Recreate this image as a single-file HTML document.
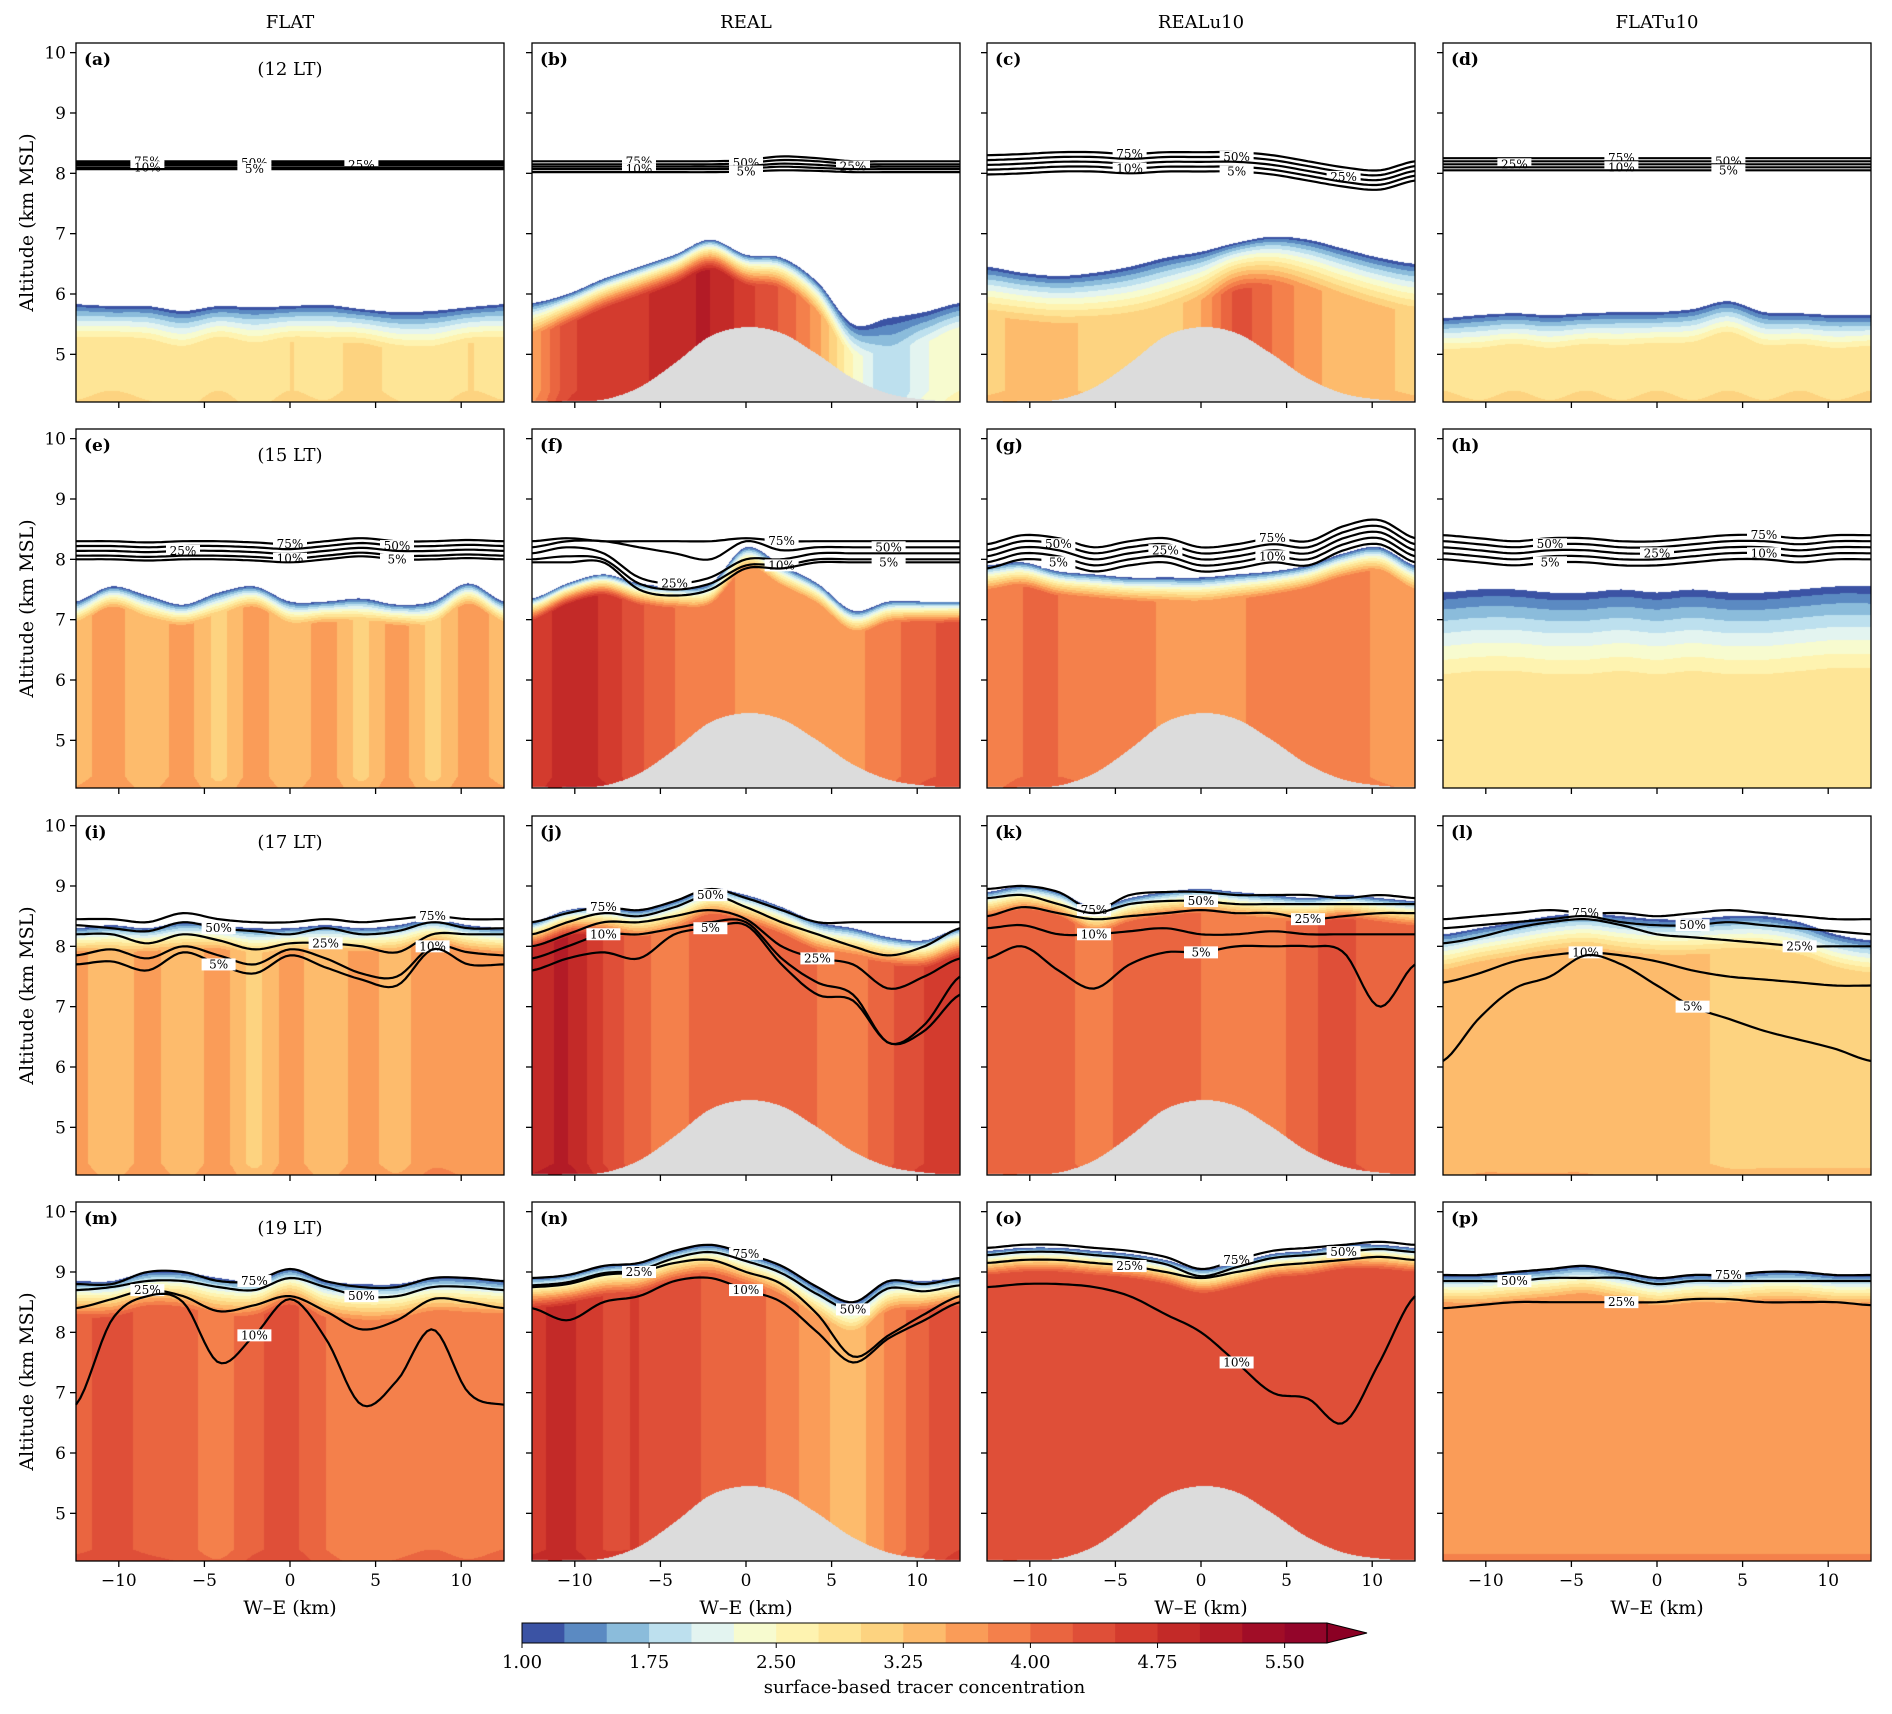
<!DOCTYPE html>
<html><head><meta charset="utf-8">
<style>
body{margin:0;background:#fff;}
#wrap{position:relative;width:1892px;height:1714px;overflow:hidden;font-family:"DejaVu Serif","Liberation Serif",serif;}
canvas{position:absolute;}
svg{position:absolute;left:0;top:0;}
</style></head>
<body>
<div id="wrap">
<svg id="svg" width="1892" height="1714"></svg>
</div>
<script>
// ---- data ----
const xs = [-12.5,-10.42,-8.33,-6.25,-4.17,-2.08,0,2.08,4.17,6.25,8.33,10.42,12.5];
const colTitles = ["FLAT","REAL","REALu10","FLATu10"];
const rowTimes = ["(12 LT)","(15 LT)","(17 LT)","(19 LT)"];
const panelLetters = ["a","b","c","d","e","f","g","h","i","j","k","l","m","n","o","p"];
const yTicks = [5,6,7,8,9,10];
const xTicks = [-10,-5,0,5,10];
const cbTicks = [1.00,1.75,2.50,3.25,4.00,4.75,5.50];
const terrain = [4.22,4.22,4.25,4.45,4.85,5.3,5.45,5.35,5.0,4.6,4.35,4.25,4.22];
const tops = [
 [5.83,5.8,5.8,5.72,5.8,5.78,5.8,5.82,5.75,5.7,5.72,5.78,5.83],
 [5.85,6.0,6.25,6.45,6.65,6.9,6.65,6.6,6.2,5.5,5.6,5.7,5.85],
 [6.45,6.35,6.3,6.35,6.45,6.6,6.7,6.85,6.95,6.9,6.75,6.6,6.5],
 [5.6,5.65,5.68,5.65,5.68,5.7,5.7,5.75,5.88,5.7,5.68,5.65,5.65],
 [7.3,7.55,7.4,7.25,7.45,7.55,7.3,7.3,7.35,7.25,7.3,7.6,7.3],
 [7.35,7.6,7.75,7.6,7.55,7.6,8.2,7.9,7.6,7.15,7.3,7.3,7.3],
 [7.9,7.95,7.8,7.75,7.7,7.7,7.7,7.75,7.8,7.9,8.1,8.2,7.9],
 [7.45,7.5,7.5,7.45,7.45,7.5,7.45,7.5,7.45,7.45,7.5,7.55,7.55],
 [8.3,8.35,8.3,8.4,8.35,8.3,8.3,8.35,8.3,8.35,8.45,8.35,8.3],
 [8.4,8.6,8.65,8.6,8.75,8.95,8.85,8.65,8.4,8.3,8.15,8.1,8.3],
 [8.9,9.0,8.9,8.65,8.8,8.9,8.95,8.9,8.85,8.8,8.85,8.8,8.75],
 [8.2,8.3,8.4,8.5,8.55,8.5,8.45,8.45,8.5,8.5,8.4,8.2,8.1],
 [8.85,8.85,9.0,9.0,8.9,8.85,9.05,8.85,8.8,8.8,8.9,8.9,8.85],
 [8.9,8.95,9.1,9.15,9.35,9.45,9.3,9.1,8.75,8.5,8.85,8.85,8.9],
 [9.35,9.4,9.4,9.35,9.3,9.2,9.05,9.15,9.3,9.35,9.45,9.45,9.4],
 [8.95,8.95,9.0,9.05,9.1,9.0,8.9,8.95,8.95,9.0,9.0,8.95,8.95]
];
const inner = [
 [2.9,3.0,2.9,2.8,3.0,2.8,3.0,2.9,3.1,2.9,2.8,3.0,2.9],
 [3.6,4.4,4.6,4.7,4.9,5.0,4.6,4.2,3.6,2.5,1.8,2.2,2.5],
 [3.2,3.3,3.3,3.2,3.1,3.1,3.5,4.3,4.0,3.6,3.4,3.3,3.2],
 [3.0,2.9,3.0,2.9,3.0,2.9,3.0,2.9,3.0,2.9,3.0,2.9,3.0],
 [3.4,3.6,3.3,3.6,3.2,3.6,3.3,3.6,3.2,3.6,3.2,3.6,3.4],
 [4.5,4.9,4.7,4.3,4.0,3.9,3.7,3.7,3.7,3.7,3.9,4.2,4.3],
 [3.8,4.0,4.0,3.9,3.9,3.7,3.6,3.7,3.9,4.0,3.9,3.7,3.6],
 [2.8,2.8,2.8,2.8,2.8,2.8,2.8,2.8,2.8,2.8,2.8,2.8,2.8],
 [3.6,3.3,3.6,3.3,3.6,3.2,3.6,3.3,3.6,3.4,3.7,3.6,3.6],
 [4.9,5.0,4.5,4.1,3.9,4.2,4.1,4.1,4.0,3.9,4.2,4.5,4.6],
 [4.0,4.1,4.1,3.9,4.1,4.1,4.0,3.9,3.9,4.2,4.3,4.1,4.0],
 [3.3,3.4,3.4,3.4,3.4,3.3,3.3,3.3,3.2,3.2,3.2,3.2,3.2],
 [4.2,4.3,4.2,4.1,3.9,4.2,4.3,4.0,3.8,3.9,4.0,3.9,4.0],
 [4.7,4.8,4.5,4.5,4.4,4.2,4.1,3.9,3.6,3.4,3.8,4.2,4.5],
 [4.3,4.3,4.3,4.3,4.3,4.3,4.3,4.3,4.3,4.3,4.3,4.3,4.3],
 [3.7,3.7,3.7,3.7,3.7,3.7,3.7,3.7,3.7,3.7,3.7,3.7,3.7]
];
const ramps = [0.6,0.5,0.8,0.6,0.35,0.35,0.4,1.4,0.4,0.45,0.4,0.6,0.6,0.5,0.4,0.5];
const hasTerrain = [false,true,true,false,false,true,true,false,false,true,true,false,false,true,true,false];
const lineLabels = ["75%","50%","25%","10%","5%"];
const lines = [
 [[8.2,8.2,8.2,8.2,8.2,8.2,8.2,8.2,8.2,8.2,8.2,8.2,8.2],[8.17,8.17,8.17,8.17,8.17,8.17,8.17,8.17,8.17,8.17,8.17,8.17,8.17],[8.14,8.14,8.14,8.14,8.14,8.14,8.14,8.14,8.14,8.14,8.14,8.14,8.14],[8.1,8.1,8.1,8.1,8.1,8.1,8.1,8.1,8.1,8.1,8.1,8.1,8.1],[8.07,8.07,8.07,8.07,8.07,8.07,8.07,8.07,8.07,8.07,8.07,8.07,8.07]],
 [[8.2,8.2,8.2,8.2,8.2,8.2,8.22,8.28,8.25,8.2,8.2,8.2,8.2],[8.15,8.15,8.15,8.15,8.15,8.15,8.17,8.22,8.2,8.15,8.15,8.15,8.15],[8.11,8.11,8.11,8.11,8.11,8.11,8.12,8.16,8.14,8.11,8.11,8.11,8.11],[8.07,8.07,8.07,8.07,8.07,8.07,8.08,8.11,8.09,8.07,8.07,8.07,8.07],[8.02,8.02,8.02,8.02,8.02,8.02,8.03,8.05,8.04,8.02,8.02,8.02,8.02]],
 [[8.3,8.32,8.35,8.35,8.32,8.35,8.35,8.35,8.3,8.2,8.1,8.05,8.2],[8.22,8.24,8.27,8.27,8.24,8.27,8.27,8.27,8.22,8.12,8.02,7.97,8.12],[8.14,8.16,8.19,8.19,8.16,8.19,8.19,8.19,8.14,8.04,7.94,7.89,8.04],[8.06,8.08,8.11,8.11,8.08,8.11,8.11,8.11,8.06,7.96,7.86,7.81,7.96],[7.98,8.0,8.03,8.03,8.0,8.03,8.03,8.03,7.98,7.88,7.78,7.73,7.88]],
 [[8.25,8.25,8.25,8.25,8.25,8.25,8.25,8.25,8.25,8.25,8.25,8.25,8.25],[8.2,8.2,8.2,8.2,8.2,8.2,8.2,8.2,8.2,8.2,8.2,8.2,8.2],[8.15,8.15,8.15,8.15,8.15,8.15,8.15,8.15,8.15,8.15,8.15,8.15,8.15],[8.1,8.1,8.1,8.1,8.1,8.1,8.1,8.1,8.1,8.1,8.1,8.1,8.1],[8.05,8.05,8.05,8.05,8.05,8.05,8.05,8.05,8.05,8.05,8.05,8.05,8.05]],
 [[8.3,8.3,8.28,8.3,8.3,8.28,8.25,8.3,8.35,8.3,8.3,8.32,8.3],[8.22,8.22,8.2,8.22,8.22,8.2,8.17,8.22,8.27,8.22,8.22,8.24,8.22],[8.14,8.14,8.12,8.14,8.14,8.12,8.09,8.14,8.19,8.14,8.14,8.16,8.14],[8.06,8.06,8.04,8.06,8.06,8.04,8.01,8.06,8.11,8.06,8.06,8.08,8.06],[8.0,8.0,7.98,8.0,8.0,7.98,7.95,8.0,8.05,8.0,8.0,8.02,8.0]],
 [[8.3,8.35,8.3,8.3,8.3,8.3,8.35,8.3,8.3,8.3,8.3,8.3,8.3],[8.2,8.3,8.3,8.2,8.1,8.0,8.3,8.15,8.2,8.2,8.2,8.2,8.2],[8.1,8.2,8.1,7.7,7.6,7.7,8.0,8.0,8.1,8.1,8.1,8.1,8.1],[8.0,8.05,8.0,7.6,7.5,7.6,7.9,7.9,8.0,8.0,8.0,8.0,8.0],[7.95,7.95,7.95,7.5,7.4,7.5,7.85,7.85,7.95,7.95,7.95,7.95,7.95]],
 [[8.25,8.4,8.35,8.2,8.3,8.35,8.2,8.25,8.35,8.3,8.55,8.65,8.35],[8.15,8.3,8.25,8.1,8.2,8.25,8.1,8.15,8.25,8.2,8.45,8.55,8.25],[8.05,8.2,8.15,8.0,8.1,8.15,8.0,8.05,8.15,8.1,8.35,8.45,8.15],[7.95,8.1,8.05,7.9,8.0,8.05,7.9,7.95,8.05,8.0,8.25,8.35,8.05],[7.85,8.0,7.95,7.8,7.9,7.95,7.8,7.85,7.95,7.9,8.15,8.25,7.95]],
 [[8.4,8.35,8.3,8.35,8.35,8.3,8.3,8.35,8.4,8.4,8.35,8.4,8.4],[8.3,8.25,8.2,8.25,8.25,8.2,8.2,8.25,8.3,8.3,8.25,8.3,8.3],[8.2,8.15,8.1,8.15,8.15,8.1,8.1,8.15,8.2,8.2,8.15,8.2,8.2],[8.1,8.05,8.0,8.05,8.05,8.0,8.0,8.05,8.1,8.1,8.05,8.1,8.1],[8.0,7.95,7.9,7.95,7.95,7.9,7.9,7.95,8.0,8.0,7.95,8.0,8.0]],
 [[8.45,8.45,8.4,8.55,8.45,8.4,8.4,8.45,8.4,8.45,8.5,8.45,8.45],[8.35,8.3,8.25,8.4,8.3,8.25,8.2,8.3,8.2,8.25,8.4,8.3,8.3],[8.2,8.2,8.05,8.2,8.1,7.95,8.05,8.05,8.0,7.9,8.2,8.2,8.2],[7.85,7.95,7.8,8.0,7.85,7.7,7.95,7.8,7.55,7.5,8.0,7.9,7.85],[7.7,7.75,7.6,7.9,7.7,7.55,7.85,7.65,7.45,7.35,7.95,7.7,7.7]],
 [[8.4,8.55,8.65,8.6,8.75,8.95,8.8,8.6,8.4,8.4,8.4,8.4,8.4],[8.2,8.4,8.55,8.5,8.65,8.85,8.65,8.4,8.2,8.0,7.85,8.0,8.3],[8.0,8.2,8.4,8.4,8.5,8.6,8.45,8.0,7.8,7.7,7.3,7.5,7.8],[7.8,8.0,8.2,8.2,8.3,8.4,8.4,7.8,7.4,7.2,6.4,6.7,7.5],[7.6,7.8,7.9,7.8,8.2,8.3,8.35,7.7,7.2,7.1,6.4,6.6,7.2]],
 [[8.95,9.0,8.9,8.6,8.85,8.9,8.9,8.85,8.85,8.85,8.8,8.85,8.8],[8.8,8.85,8.7,8.55,8.7,8.75,8.75,8.7,8.7,8.7,8.7,8.7,8.7],[8.5,8.65,8.55,8.45,8.5,8.55,8.6,8.55,8.55,8.45,8.5,8.55,8.55],[8.3,8.35,8.2,8.2,8.25,8.3,8.2,8.2,8.25,8.2,8.2,8.2,8.2],[7.8,8.0,7.6,7.3,7.7,7.9,7.9,8.0,8.0,8.0,7.9,7.0,7.7]],
 [[8.45,8.5,8.55,8.6,8.55,8.55,8.5,8.55,8.6,8.55,8.5,8.45,8.45],[8.3,8.35,8.4,8.45,8.5,8.4,8.35,8.35,8.4,8.35,8.3,8.25,8.2],[8.05,8.15,8.3,8.4,8.45,8.35,8.2,8.15,8.1,8.05,8.0,8.0,8.0],[7.4,7.55,7.75,7.85,7.9,7.85,7.75,7.6,7.5,7.45,7.4,7.35,7.35],[6.1,6.8,7.3,7.5,7.85,7.7,7.35,7.0,6.8,6.6,6.45,6.3,6.1]],
 [[8.8,8.8,9.0,9.0,8.85,8.85,9.05,8.85,8.75,8.75,8.9,8.9,8.85],[8.7,8.75,8.85,8.85,8.75,8.7,8.9,8.75,8.6,8.6,8.75,8.75,8.7],[8.4,8.55,8.7,8.6,8.35,8.45,8.6,8.35,8.05,8.2,8.55,8.5,8.4],[6.8,8.2,8.6,8.5,7.5,7.95,8.55,7.9,6.8,7.2,8.05,7.0,6.8]],
 [[8.9,8.95,9.1,9.15,9.35,9.45,9.3,9.1,8.75,8.5,8.85,8.8,8.9],[8.78,8.83,8.98,9.03,9.23,9.33,9.18,8.98,8.63,8.38,8.73,8.68,8.78],[8.75,8.8,8.95,9.0,9.15,9.2,9.0,8.8,8.3,7.6,7.95,8.3,8.6],[8.4,8.2,8.5,8.6,8.85,8.9,8.7,8.5,8.0,7.5,7.9,8.2,8.5]],
 [[9.4,9.45,9.45,9.4,9.35,9.25,9.05,9.2,9.35,9.4,9.45,9.5,9.45],[9.28,9.33,9.33,9.28,9.23,9.13,8.93,9.08,9.23,9.28,9.33,9.38,9.33],[9.15,9.2,9.2,9.15,9.1,9.0,8.9,9.0,9.1,9.15,9.2,9.25,9.2],[8.75,8.8,8.8,8.75,8.6,8.3,8.0,7.5,7.0,6.9,6.5,7.5,8.6]],
 [[8.95,8.95,9.0,9.05,9.1,9.0,8.9,8.95,8.95,9.0,9.0,8.95,8.95],[8.85,8.85,8.85,8.9,8.9,8.9,8.8,8.85,8.85,8.85,8.85,8.85,8.85],[8.4,8.45,8.5,8.5,8.5,8.5,8.5,8.55,8.55,8.5,8.5,8.5,8.45]]
];
const cmap = ["#3b53a4","#5b8ac2","#8bbcdb","#bde0ee","#e3f4f0","#f7fbcf","#fef3b0","#fee596","#fdd380","#fdbb6c","#fa9c58","#f4804b","#ea6540","#df4f38","#d33b2e","#c32a28","#b31b26","#a10d27","#93052a"];
const extendColor = "#8b0024";

// ---- layout ----
const PL=76, PT=43, PW=428, PH=359, DX=455.7, DY=386.3;
const ZMIN=4.21, ZMAX=10.16;
const wrap=document.getElementById('wrap');
const svg=document.getElementById('svg');
const NS="http://www.w3.org/2000/svg";
function mk(tag,attrs,parent){const e=document.createElementNS(NS,tag);for(const k in attrs)e.setAttribute(k,attrs[k]);(parent||svg).appendChild(e);return e;}
function interp(arr,x){
  if(x<=xs[0])return arr[0];
  for(let i=0;i<xs.length-1;i++){if(x<=xs[i+1]){
    const t=(x-xs[i])/(xs[i+1]-xs[i]);
    const p0=arr[Math.max(0,i-1)],p1=arr[i],p2=arr[i+1],p3=arr[Math.min(arr.length-1,i+2)];
    return 0.5*((2*p1)+(-p0+p2)*t+(2*p0-5*p1+4*p2-p3)*t*t+(-p0+3*p1-3*p2+p3)*t*t*t);}}
  return arr[arr.length-1];
}
function hex(c){return [parseInt(c.substr(1,2),16),parseInt(c.substr(3,2),16),parseInt(c.substr(5,2),16)];}
const cmapRGB=cmap.map(hex);

for(let p=0;p<16;p++){
  const r=Math.floor(p/4), c=p%4;
  const L=Math.round(PL+c*DX), T=Math.round(PT+r*DY);
  const xS=x=>L+(x+12.5)/25*PW;
  const yS=z=>T+(ZMAX-z)/(ZMAX-ZMIN)*PH;
  const cv=document.createElement('canvas');
  cv.width=PW;cv.height=PH;cv.style.left=L+'px';cv.style.top=T+'px';
  
  
  wrap.insertBefore(cv,svg);
  const ctx=cv.getContext('2d');
  const img=ctx.createImageData(PW,PH);
  for(let px=0;px<PW;px++){
    const x=(px+0.5)/PW*25-12.5;
    const top=interp(tops[p],x), inn=interp(inner[p],x), tr=interp(terrain,x);
    for(let py=0;py<PH;py++){
      const z=ZMAX-(py+0.5)/PH*(ZMAX-ZMIN);
      let col=[255,255,255];
      if(hasTerrain[p] && z<tr){col=[220,220,220];}
      else{
        const d=top-z;
        if(d>=0){
          let v=1+(inn-1)*Math.pow(Math.min(1,d/ramps[p]),0.8);
          if(z<4.4) v+=0.12*(4.4-z)/0.19;
          let b=Math.floor((v-1)/0.25);
          if(b<0)b=0;
          col = b>18?hex(extendColor):cmapRGB[b];
        }
      }
      const k=(py*PW+px)*4;img.data[k]=col[0];img.data[k+1]=col[1];img.data[k+2]=col[2];img.data[k+3]=255;
    }
  }
  ctx.putImageData(img,0,0);
  const g=mk('g',{});
  
  
  lines[p].forEach((ln,k)=>{
    let d='';
    for(let s=0;s<=100;s++){const x=-12.5+25*s/100;const z=interp(ln,x);d+=(s?'L':'M')+xS(x).toFixed(1)+','+yS(z).toFixed(1);}
    const path=mk('path',{d:d,fill:'none',stroke:'#000','stroke-width':2.2},g);
    
    
    const idx=2+((k*3+p)%9);
    const lx=xs[idx], lz=ln[idx];
    const bg=mk('rect',{x:xS(lx)-17,y:yS(lz)-6,width:34,height:12,fill:'#fff'},g);
    
    
    const t=mk('text',{x:xS(lx),y:yS(lz)+4,'font-size':12,'text-anchor':'middle',fill:'#000'},g);
    
    
    t.textContent=lineLabels[k];
  });
  const fr=mk('rect',{x:L,y:T,width:PW,height:PH,fill:'none',stroke:'#000','stroke-width':1.3},g);
  
  
  yTicks.forEach(v=>{
    const tk=mk('line',{x1:L-6,x2:L,y1:yS(v),y2:yS(v),stroke:'#000','stroke-width':1.3},g);
    
    
    if(c===0){const t=mk('text',{x:L-10,y:yS(v)+6,'font-size':17,'text-anchor':'end'},g);
      
      
      t.textContent=v;}
  });
  xTicks.forEach(v=>{
    const tk=mk('line',{x1:xS(v),x2:xS(v),y1:T+PH,y2:T+PH+6,stroke:'#000','stroke-width':1.3},g);
    
    
    if(r===3){const t=mk('text',{x:xS(v),y:T+PH+25,'font-size':17,'text-anchor':'middle'},g);
      
      
      t.textContent=(v<0?'\u2212'+(-v):v);}
  });
  const pl=mk('text',{x:L+8,y:T+22,'font-size':17,'font-weight':'bold'},g);
  
  
  pl.textContent='('+panelLetters[p]+')';
  if(c===0){
    const tt=mk('text',{x:L+PW/2,y:T+32,'font-size':18,'text-anchor':'middle'},g);
    
    
    tt.textContent=rowTimes[r];
    const yl=mk('text',{x:0,y:0,'font-size':19,'text-anchor':'middle',transform:'translate(33,'+(T+PH/2)+') rotate(-90)'},g);
    
    
    yl.textContent='Altitude (km MSL)';
  }
  if(r===0){
    const ct=mk('text',{x:L+PW/2,y:28,'font-size':18,'text-anchor':'middle'},g);
    
    
    ct.textContent=colTitles[c];
  }
  if(r===3){
    const xl=mk('text',{x:L+PW/2,y:T+PH+53,'font-size':19,'text-anchor':'middle'},g);
    
    
    xl.textContent='W\u2013E (km)';
  }
}
const CBL=522, CBR=1327, CBT=1623, CBH=20, bw=(CBR-CBL)/cmap.length;
const cb=mk('g',{});


cmap.forEach((col,i)=>{
  const rc=mk('rect',{x:CBL+i*bw,y:CBT,width:bw+0.5,height:CBH,fill:col},cb);
  
  
});
const tri=mk('polygon',{points:CBR+','+CBT+' '+(CBR+40)+','+(CBT+CBH/2)+' '+CBR+','+(CBT+CBH),fill:extendColor,stroke:'#000','stroke-width':1},cb);


const cbf=mk('rect',{x:CBL,y:CBT,width:CBR-CBL,height:CBH,fill:'none',stroke:'#000','stroke-width':1},cb);


cbTicks.forEach(v=>{
  const x=CBL+(v-1)/0.25*bw;
  const tk=mk('line',{x1:x,x2:x,y1:CBT+CBH,y2:CBT+CBH+5,stroke:'#000'},cb);
  
  
  const t=mk('text',{x:x,y:CBT+CBH+25,'font-size':18,'text-anchor':'middle'},cb);
  
  
  t.textContent=v.toFixed(2);
});
const cbl=mk('text',{x:(CBL+CBR)/2,y:CBT+CBH+50,'font-size':18,'text-anchor':'middle'},cb);


cbl.textContent='surface-based tracer concentration';
</script>
</body></html>
